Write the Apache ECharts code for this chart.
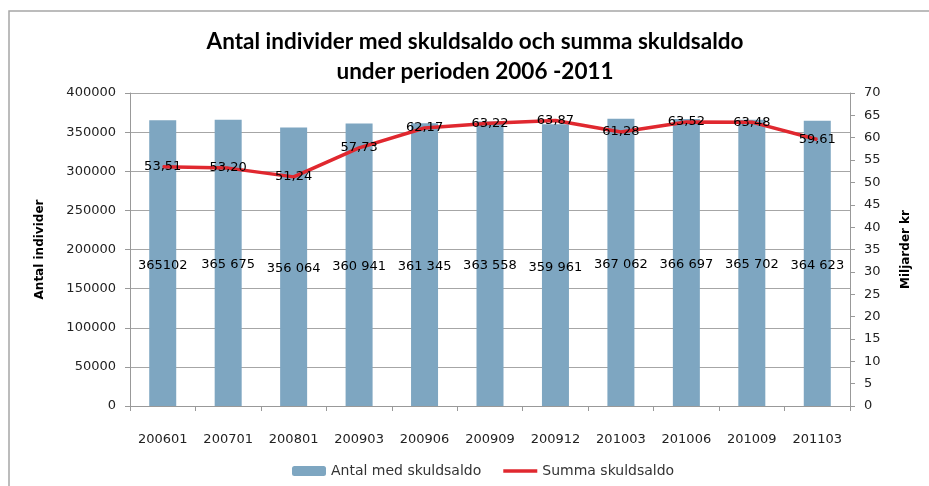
<!DOCTYPE html>
<html>
<head>
<meta charset="utf-8">
<script src="https://cdn.jsdelivr.net/npm/echarts@6/dist/echarts.min.js"></script>
<style>
  html, body { margin: 0; padding: 0; background: #fff; }
  #chart { width: 929px; height: 486px; }
</style>
</head>
<body>
<div id="chart"></div>
<script>
// period labels (yyyymm)
const periods = ["200601", "200701", "200801", "200903", "200906", "200909", "200912", "201003", "201006", "201009", "201103"];
// number of individuals with a debt balance
const antal = [365102, 365675, 356064, 360941, 361345, 363558, 359961, 367062, 366697, 365702, 364623];
// bar labels as printed in the source
const antalText = ["365102", "365 675", "356 064", "360 941", "361 345", "363 558", "359 961", "367 062", "366 697", "365 702", "364 623"];
// total debt balance, billions SEK
const summa = [53.51, 53.20, 51.24, 57.73, 62.17, 63.22, 63.87, 61.28, 63.52, 63.48, 59.61];

const txt = "'DejaVu Sans', sans-serif";
const chart = echarts.init(document.getElementById("chart"));

chart.setOption({
  animation: false,
  backgroundColor: "#fff",
  title: {
    text: "Antal individer med skuldsaldo och summa skuldsaldo\nunder perioden 2006 -2011",
    left: 470,
    textAlign: "center",
    top: 22,
    textStyle: {
      fontFamily: "Lato, sans-serif",
      fontWeight: "bold",
      fontSize: 22.5,
      lineHeight: 30,
      color: "#000"
    }
  },
  graphic: [{
    type: "rect",
    shape: { x: 9, y: 11, width: 1000, height: 600 },
    style: { fill: "none", stroke: "#a6a6a6", lineWidth: 1.5 },
    silent: true
  }],
  legend: {
    top: 459,
    left: 287,
    itemWidth: 34,
    itemHeight: 10,
    itemGap: 22,
    textStyle: { fontFamily: txt, fontSize: 14, color: "#333" },
    data: [
      { name: "Antal med skuldsaldo" },
      { name: "Summa skuldsaldo", icon: "path://M0,0L30,0L30,3L0,3Z" }
    ]
  },
  grid: { left: 130, right: 79, top: 93, bottom: 80 },
  xAxis: {
    type: "category",
    data: periods,
    axisLine: { lineStyle: { color: "#999" } },
    axisTick: { show: true, length: 5, lineStyle: { color: "#999" } },
    axisLabel: { margin: 27, fontFamily: txt, fontSize: 13, color: "#222" }
  },
  yAxis: [{
    type: "value",
    min: 0,
    max: 400000,
    interval: 50000,
    name: "Antal individer",
    nameLocation: "middle",
    nameRotate: 90,
    nameGap: 84,
    nameTextStyle: { fontFamily: txt, fontWeight: "bold", fontSize: 12, color: "#000" },
    axisLine: { show: true, lineStyle: { color: "#999" } },
    axisTick: { show: true, length: 5, lineStyle: { color: "#999" } },
    axisLabel: { margin: 14, fontFamily: txt, fontSize: 13, color: "#222", formatter: v => String(v) },
    splitLine: { lineStyle: { color: "#a6a6a6" } }
  }, {
    type: "value",
    min: 0,
    max: 70,
    interval: 5,
    position: "right",
    name: "Miljarder kr",
    nameLocation: "middle",
    nameRotate: 90,
    nameGap: 50,
    nameTextStyle: { fontFamily: txt, fontWeight: "bold", fontSize: 12, color: "#000" },
    axisLine: { show: true, lineStyle: { color: "#999" } },
    axisTick: { show: true, length: 5, lineStyle: { color: "#999" } },
    axisLabel: { margin: 14, fontFamily: txt, fontSize: 13, color: "#222" },
    splitLine: { show: false }
  }],
  series: [{
    name: "Antal med skuldsaldo",
    type: "bar",
    data: antal,
    barWidth: 27,
    itemStyle: { color: "#7ea6c1" },
    label: {
      show: true,
      position: "inside",
      offset: [0, 2],
      fontFamily: txt,
      fontSize: 13,
      color: "#000",
      formatter: p => antalText[p.dataIndex]
    }
  }, {
    name: "Summa skuldsaldo",
    type: "line",
    yAxisIndex: 1,
    data: summa,
    symbol: "circle",
    symbolSize: 1,
    lineStyle: { color: "#e0282f", width: 3.5 },
    itemStyle: { color: "#e0282f" },
    label: {
      show: true,
      position: "inside",
      fontFamily: txt,
      fontSize: 13,
      color: "#000",
      formatter: p => p.value.toFixed(2).replace(".", ",")
    },
    z: 3
  }]
});
</script>
</body>
</html>
